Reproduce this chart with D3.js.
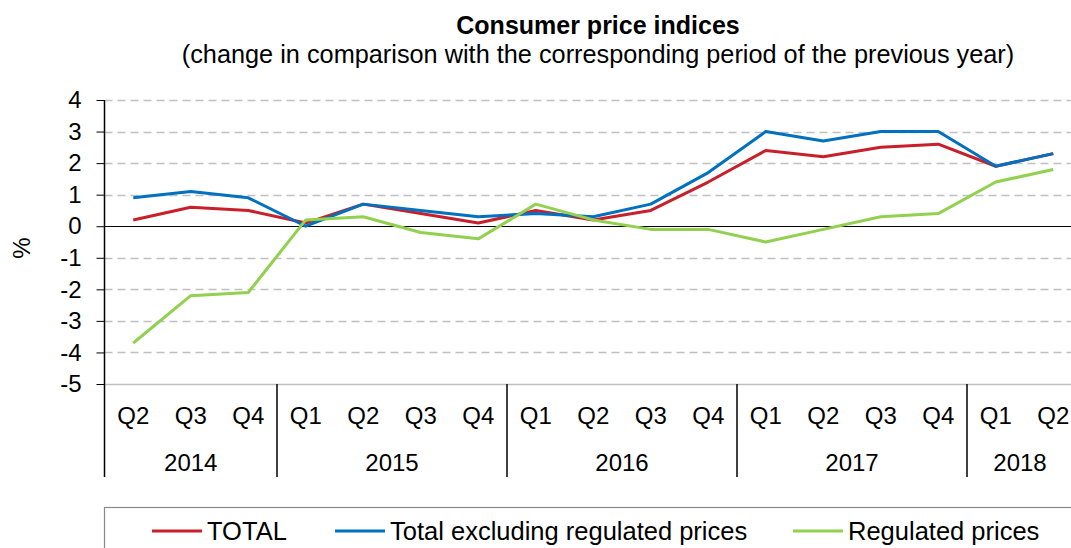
<!DOCTYPE html>
<html>
<head>
<meta charset="utf-8">
<script src="https://cdn.jsdelivr.net/npm/d3@7"></script>
<style>
  body { margin: 0; background: #fff; }
  text { font-family: 'Liberation Sans', Arial, sans-serif; fill: #000; }
</style>
</head>
<body>
<div id="chart"></div>
<script>
const quarters = ['Q2', 'Q3', 'Q4', 'Q1', 'Q2', 'Q3', 'Q4', 'Q1', 'Q2', 'Q3', 'Q4', 'Q1', 'Q2', 'Q3', 'Q4', 'Q1', 'Q2']
const years = ['2014', '2015', '2016', '2017', '2018']
const quartersPerYear = [3, 4, 4, 4, 2]

const total = [0.2, 0.6, 0.5, 0.1, 0.7, 0.4, 0.1, 0.5, 0.2, 0.5, 1.4, 2.4, 2.2, 2.5, 2.6, 1.9, 2.3]
const totalExRegulated = [0.9, 1.1, 0.9, 0.0, 0.7, 0.5, 0.3, 0.4, 0.3, 0.7, 1.7, 3.0, 2.7, 3.0, 3.0, 1.9, 2.3]
const regulated = [-3.7, -2.2, -2.1, 0.2, 0.3, -0.2, -0.4, 0.7, 0.2, -0.1, -0.1, -0.5, -0.1, 0.3, 0.4, 1.4, 1.8]

const seriesNames = ['TOTAL', 'Total excluding regulated prices', 'Regulated prices']
const seriesColors = ['#c8202a', '#0070c0', '#92d050']
const yTicks = [-5, -4, -3, -2, -1, 0, 1, 2, 3, 4]

const W = 1071
const H = 548
const plotLeft = 104.5
const plotRight = 1082
const plotTop = 100
const plotBottom = 384
const catBottom = 477
const FONT = 24

const svg = d3.select('#chart').append('svg').attr('width', W).attr('height', H)

const idx = quarters.map((q, i) => i)
const x = d3.scaleBand().domain(idx).range([plotLeft, plotRight]).paddingInner(0).paddingOuter(0)
const y = d3.scaleLinear().domain([-5, 4]).range([plotBottom, plotTop])
const cx = (i) => x(i) + x.bandwidth() / 2

// title
svg
  .append('text')
  .attr('x', 598)
  .attr('y', 34)
  .attr('text-anchor', 'middle')
  .attr('font-size', 25)
  .attr('font-weight', 'bold')
  .text('Consumer price indices')

svg
  .append('text')
  .attr('x', 598)
  .attr('y', 63)
  .attr('text-anchor', 'middle')
  .attr('font-size', 25.3)
  .text('(change in comparison with the corresponding period of the previous year)')

// grid
svg
  .append('g')
  .selectAll('line')
  .data(yTicks.filter((d) => d !== 0))
  .join('line')
  .attr('x1', plotLeft)
  .attr('x2', W)
  .attr('y1', (d) => Math.round(y(d)) + 0.5)
  .attr('y2', (d) => Math.round(y(d)) + 0.5)
  .attr('stroke', '#c0c0c0')
  .attr('stroke-width', 1.5)
  .attr('stroke-dasharray', (d) => (d === -5 ? null : '8,5'))

// y axis
const yAxis = svg
  .append('g')
  .attr('transform', `translate(${plotLeft},0)`)
  .call(d3.axisLeft(y).tickValues(yTicks).tickSize(8).tickPadding(15).tickFormat((d) => String(d)))

yAxis.select('.domain').remove()
yAxis.selectAll('.tick line').attr('stroke', '#000')
yAxis.selectAll('.tick text').attr('font-size', FONT).attr('font-family', "'Liberation Sans', Arial, sans-serif")

svg
  .append('line')
  .attr('x1', plotLeft)
  .attr('x2', plotLeft)
  .attr('y1', plotTop)
  .attr('y2', catBottom)
  .attr('stroke', '#000')
  .attr('stroke-width', 1.5)

// zero line
svg
  .append('line')
  .attr('x1', plotLeft)
  .attr('x2', W)
  .attr('y1', Math.round(y(0)) + 0.5)
  .attr('y2', Math.round(y(0)) + 0.5)
  .attr('stroke', '#000')
  .attr('stroke-width', 1.2)

// y title
svg
  .append('text')
  .attr('transform', 'translate(30,248) rotate(-90)')
  .attr('text-anchor', 'middle')
  .attr('font-size', FONT)
  .text('%')

// category axis
svg
  .append('g')
  .selectAll('text')
  .data(quarters)
  .join('text')
  .attr('x', (d, i) => cx(i))
  .attr('y', 424)
  .attr('text-anchor', 'middle')
  .attr('font-size', FONT)
  .text((d) => d)

let start = 0
years.forEach((yr, k) => {
  const n = quartersPerYear[k]
  const x0 = x(start)
  const x1 = x(start + n - 1) + x.bandwidth()
  svg
    .append('text')
    .attr('x', Math.min((x0 + x1) / 2, (x0 + W) / 2 + 1))
    .attr('y', 471)
    .attr('text-anchor', 'middle')
    .attr('font-size', FONT)
    .text(yr)
  if (k > 0) {
    svg
      .append('line')
      .attr('x1', x0)
      .attr('x2', x0)
      .attr('y1', plotBottom)
      .attr('y2', catBottom)
      .attr('stroke', '#000')
      .attr('stroke-width', 1.5)
  }
  start += n
})

// lines
const line = d3
  .line()
  .x((d, i) => cx(i))
  .y((d) => y(d))

;[total, totalExRegulated, regulated].forEach((s, i) => {
  svg
    .append('path')
    .datum(s)
    .attr('d', line)
    .attr('fill', 'none')
    .attr('stroke', seriesColors[i])
    .attr('stroke-width', 3)
    .attr('stroke-linejoin', 'round')
})

// legend
svg
  .append('rect')
  .attr('x', plotLeft)
  .attr('y', 507.5)
  .attr('width', 1000)
  .attr('height', 100)
  .attr('fill', 'none')
  .attr('stroke', '#888888')
  .attr('stroke-width', 1.2)

const legendX = [152, 335, 793]
seriesNames.forEach((name, i) => {
  const g = svg.append('g').attr('transform', `translate(${legendX[i]},531)`)
  g.append('line').attr('x1', 0).attr('x2', 50).attr('y1', 0).attr('y2', 0).attr('stroke', seriesColors[i]).attr('stroke-width', 3)
  g.append('text').attr('x', 55).attr('y', 9).attr('font-size', 25.5).text(name)
})
</script>
</body>
</html>
